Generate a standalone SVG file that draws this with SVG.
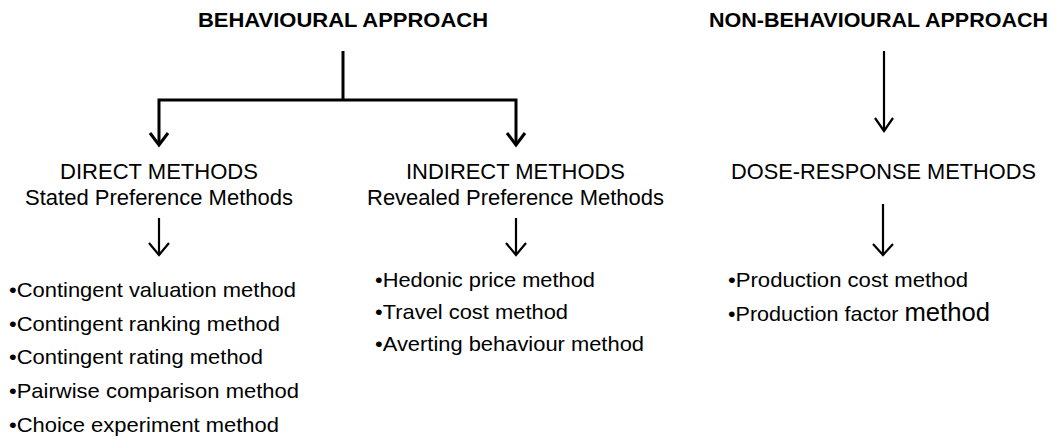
<svg xmlns="http://www.w3.org/2000/svg" width="1061" height="442" viewBox="0 0 1061 442">
  <style>
    text { font-family: "Liberation Sans", Arial, sans-serif; fill: #000; }
    .head { font-size: 20.5px; font-weight: bold; }
    .sub { font-size: 21.5px; }
    .item { font-size: 21px; }
    .big { font-size: 25px; }
    .wire { fill: none; stroke: #000; stroke-width: 3; stroke-linecap: butt; stroke-linejoin: miter; }
    .wire-thin { fill: none; stroke: #000; stroke-width: 2.2; }
  </style>
  <rect width="1061" height="442" fill="#fff"/>

  <g id="connectors">
    <!-- behavioural approach split -->
    <path class="wire" d="M343 51 V100"/>
    <path class="wire" d="M159 145 V100 H516 V145"/>
    <path class="wire" d="M150 133 L159 145 L168 133"/>
    <path class="wire" d="M507 133 L516 145 L525 133"/>
    <!-- non-behavioural approach -->
    <path class="wire-thin" d="M884 51 V131"/>
    <path class="wire-thin" d="M875 118 L884 131 L893 118"/>
    <!-- method groups to their lists -->
    <path class="wire-thin" d="M159 218 V255"/>
    <path class="wire-thin" d="M149 243 L159 255 L169 243"/>
    <path class="wire-thin" d="M516 218 V255"/>
    <path class="wire-thin" d="M506 243 L516 255 L526 243"/>
    <path class="wire-thin" d="M883 204 V255"/>
    <path class="wire-thin" d="M873 244 L883 255 L893 244"/>
  </g>

  <g id="behavioural">
    <text class="head" x="198" y="27" textLength="290" lengthAdjust="spacingAndGlyphs">BEHAVIOURAL APPROACH</text>
  </g>
  <g id="non-behavioural">
    <text class="head" x="709" y="27" textLength="339" lengthAdjust="spacingAndGlyphs">NON-BEHAVIOURAL APPROACH</text>
  </g>

  <g id="direct-methods">
    <text class="sub" x="60" y="178.5" textLength="198" lengthAdjust="spacingAndGlyphs">DIRECT METHODS</text>
    <text class="sub" x="25" y="205" textLength="268" lengthAdjust="spacingAndGlyphs">Stated Preference Methods</text>
  </g>
  <g id="indirect-methods">
    <text class="sub" x="406" y="178.5" textLength="219" lengthAdjust="spacingAndGlyphs">INDIRECT METHODS</text>
    <text class="sub" x="367" y="205" textLength="297" lengthAdjust="spacingAndGlyphs">Revealed Preference Methods</text>
  </g>
  <g id="dose-response-methods">
    <text class="sub" x="731" y="178.5" textLength="305" lengthAdjust="spacingAndGlyphs">DOSE-RESPONSE METHODS</text>
  </g>

  <g id="stated-list">
    <text class="item" x="9" y="297" textLength="287" lengthAdjust="spacingAndGlyphs">•Contingent valuation method</text>
    <text class="item" x="9" y="330.5" textLength="271" lengthAdjust="spacingAndGlyphs">•Contingent ranking method</text>
    <text class="item" x="9" y="364" textLength="254" lengthAdjust="spacingAndGlyphs">•Contingent rating method</text>
    <text class="item" x="9" y="398" textLength="290" lengthAdjust="spacingAndGlyphs">•Pairwise comparison method</text>
    <text class="item" x="9" y="432" textLength="270" lengthAdjust="spacingAndGlyphs">•Choice experiment method</text>
  </g>
  <g id="revealed-list">
    <text class="item" x="375" y="287" textLength="220" lengthAdjust="spacingAndGlyphs">•Hedonic price method</text>
    <text class="item" x="375" y="319" textLength="193" lengthAdjust="spacingAndGlyphs">•Travel cost method</text>
    <text class="item" x="375" y="351" textLength="269" lengthAdjust="spacingAndGlyphs">•Averting behaviour method</text>
  </g>
  <g id="dose-response-list">
    <text class="item" x="728" y="287" textLength="240" lengthAdjust="spacingAndGlyphs">•Production cost method</text>
    <text class="item" x="728" y="321" textLength="262" lengthAdjust="spacingAndGlyphs">•Production factor <tspan class="big">method</tspan></text>
  </g>
</svg>
